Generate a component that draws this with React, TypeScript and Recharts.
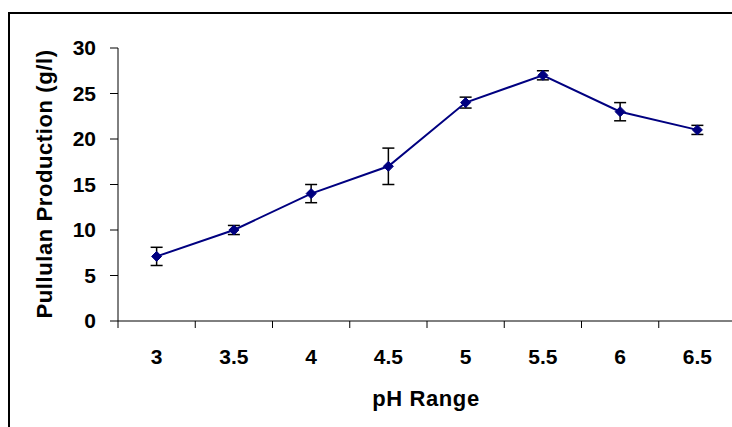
import React from "react";
import { LineChart, Line, XAxis, YAxis, ErrorBar } from "recharts";

const phLabels = ["3", "3.5", "4", "4.5", "5", "5.5", "6", "6.5"];
const production = [7.1, 10, 14, 17, 24, 27, 23, 21];
const errors = [1, 0.5, 1, 2, 0.6, 0.5, 1, 0.5];
const yTicks = [0, 5, 10, 15, 20, 25, 30];

const data = phLabels.map((ph, i) => ({ ph, value: production[i], err: errors[i] }));

const FONT = "'Liberation Sans', Arial, sans-serif";
const TICK_SIZE = 7;
const TICK_MARGIN = 21;

const XTick = (props: any) => {
  const { x, y, payload } = props;
  const half = payload && payload.offset ? payload.offset : 0;
  const axisY = y - TICK_SIZE - TICK_MARGIN;
  return (
    <g>
      <line x1={x - half} y1={axisY} x2={x - half} y2={axisY + TICK_SIZE} stroke="#000" strokeWidth={1} />
      <text
        x={x}
        y={y}
        dy="0.71em"
        textAnchor="middle"
        fontFamily={FONT}
        fontWeight="bold"
        fontSize={21}
        fill="#000"
      >
        {payload.value}
      </text>
    </g>
  );
};

const Diamond = (props: any) => {
  const { cx, cy } = props;
  if (cx == null || cy == null) return null;
  const s = 5;
  return (
    <polygon
      points={`${cx},${cy - s} ${cx + s},${cy} ${cx},${cy + s} ${cx - s},${cy}`}
      fill="#000080"
      stroke="#000080"
      strokeWidth={1}
    />
  );
};

export default function App() {
  return (
    <div style={{ position: "fixed", left: 0, top: 0, width: 732, height: 427, overflow: "hidden", background: "#fff" }}>
      <div
        style={{
          position: "absolute",
          left: 8,
          top: 12,
          width: 800,
          height: 500,
          border: "2px solid #000",
          boxSizing: "border-box",
        }}
      />
      <div style={{ position: "absolute", left: 0, top: 0 }}>
        <LineChart
          width={736}
          height={427}
          data={data}
          margin={{ top: 48, right: 0, bottom: 46, left: 0 }}
        >
          <XAxis
            dataKey="ph"
            scale="band"
            height={60}
            axisLine={{ stroke: "#000", strokeWidth: 1 }}
            tickLine={false}
            tickSize={TICK_SIZE}
            tickMargin={TICK_MARGIN}
            tick={<XTick />}
            interval={0}
          />
          <YAxis
            width={118}
            domain={[0, 30]}
            ticks={yTicks}
            interval={0}
            axisLine={{ stroke: "#000", strokeWidth: 1 }}
            tickLine={{ stroke: "#000", strokeWidth: 1 }}
            tickSize={8}
            tickMargin={14}
            tick={{ fill: "#000", fontSize: 21, fontWeight: "bold", fontFamily: FONT }}
          />
          <Line
            type="linear"
            dataKey="value"
            stroke="#000080"
            strokeWidth={2}
            dot={<Diamond />}
            activeDot={false}
            isAnimationActive={false}
          >
            <ErrorBar dataKey="err" width={6} stroke="#000" strokeWidth={1.5} direction="y" isAnimationActive={false} />
          </Line>
        </LineChart>
      </div>
      <svg style={{ position: "absolute", left: 0, top: 0 }} width={732} height={427}>
        <text
          x={426}
          y={406}
          textAnchor="middle"
          fontFamily={FONT}
          fontWeight="bold"
          fontSize={22}
          letterSpacing={0.6}
          fill="#000"
        >
          pH Range
        </text>
        <text
          x={52}
          y={184}
          transform="rotate(-90, 52, 184)"
          textAnchor="middle"
          fontFamily={FONT}
          fontWeight="bold"
          fontSize={22}
          letterSpacing={0.6}
          fill="#000"
        >
          Pullulan Production (g/l)
        </text>
      </svg>
    </div>
  );
}
